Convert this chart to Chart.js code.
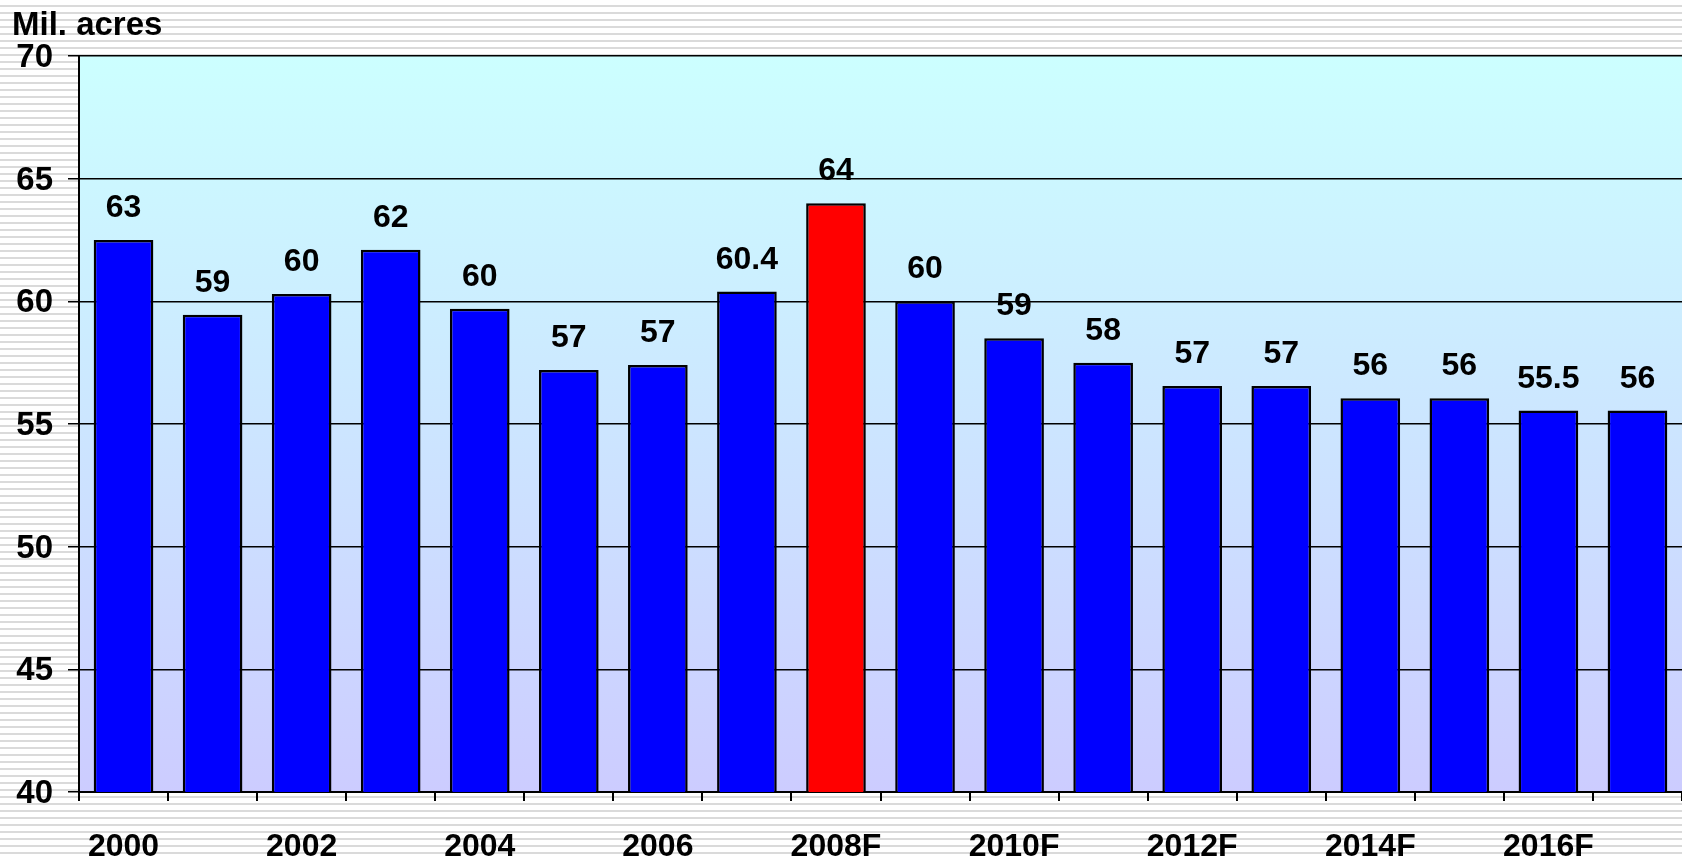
<!DOCTYPE html>
<html>
<head>
<meta charset="utf-8">
<script src="https://cdn.jsdelivr.net/npm/chart.js@4"></script>
<style>
  html, body {
    margin: 0;
    padding: 0;
    background: repeating-linear-gradient(to bottom, #ffffff 0px, #ffffff 5px, #dadada 5px, #dadada 7px);
  }
  canvas { display: block; }
</style>
</head>
<body>
<canvas id="acresChart" width="1682" height="859"></canvas>
<script>
// categories and values (million acres)
const years = ["2000", "2001", "2002", "2003", "2004", "2005", "2006", "2007", "2008F",
    "2009F", "2010F", "2011F", "2012F", "2013F", "2014F", "2015F", "2016F", "2017F"];
const acres = [62.5, 59.45, 60.3, 62.1, 59.7, 57.2, 57.4, 60.4, 64.0,
    60.0, 58.5, 57.5, 56.55, 56.55, 56.05, 56.05, 55.55, 55.55];
const valueLabels = ["63", "59", "60", "62", "60", "57", "57", "60.4", "64",
    "60", "59", "58", "57", "57", "56", "56", "55.5", "56"];
const yTicks = [40, 45, 50, 55, 60, 65, 70];
const highlightYear = "2008F";

const FONT = "'Liberation Sans', Arial, sans-serif";

// plot background: cyan at top fading to lavender
const plotBackground = {
    id: "plotBackground",
    beforeDraw(chart) {
        const { ctx, chartArea } = chart;
        const g = ctx.createLinearGradient(0, chartArea.top, 0, chartArea.bottom);
        g.addColorStop(0, "#ccffff");
        g.addColorStop(1, "#ccccff");
        ctx.save();
        ctx.fillStyle = g;
        ctx.fillRect(chartArea.left, chartArea.top, chartArea.right - chartArea.left, chartArea.bottom - chartArea.top);
        ctx.restore();
    }
};

// value labels above bars + unit title
const barLabels = {
    id: "barLabels",
    afterDatasetsDraw(chart) {
        const { ctx } = chart;
        const meta = chart.getDatasetMeta(0);
        ctx.save();
        ctx.fillStyle = "#000";
        ctx.font = "bold 32px " + FONT;
        ctx.textAlign = "center";
        ctx.textBaseline = "alphabetic";
        meta.data.forEach((bar, i) => {
            ctx.fillText(valueLabels[i], bar.x, bar.y - 23);
        });
        ctx.textAlign = "left";
        ctx.font = "bold 33px " + FONT;
        ctx.fillText("Mil. acres", 12, 35);
        ctx.restore();
    }
};

const ctx = document.getElementById("acresChart").getContext("2d");

const chart = new Chart(ctx, {
    type: "bar",
    data: {
        labels: years,
        datasets: [{
            data: acres,
            backgroundColor: years.map(y => y === highlightYear ? "#ff0000" : "#0000ff"),
            borderColor: "#000",
            borderWidth: 2.5,
            borderSkipped: "start",
            categoryPercentage: 1.0,
            barPercentage: 0.67,
        }],
    },
    options: {
        responsive: false,
        animation: false,
        devicePixelRatio: 1,
        layout: { padding: { top: 56, right: 0, left: 0, bottom: 0 } },
        plugins: {
            legend: { display: false },
            tooltip: { enabled: false },
        },
        scales: {
            x: {
                grid: {
                    offset: true,
                    drawOnChartArea: false,
                    drawTicks: true,
                    tickLength: 9,
                    color: "#000",
                    lineWidth: 2,
                },
                border: { color: "#000", width: 2 },
                ticks: {
                    autoSkip: false,
                    maxRotation: 0,
                    color: "#000",
                    padding: 27,
                    font: { family: FONT, size: 32, weight: "bold" },
                    callback: function (value, index) {
                        return index % 2 === 0 ? years[index] : "";
                    },
                },
                afterFit(scale) { scale.height = 67; },
            },
            y: {
                min: yTicks[0],
                max: yTicks[yTicks.length - 1],
                afterBuildTicks(scale) { scale.ticks = yTicks.map(v => ({ value: v })); },
                grid: {
                    color: "#000",
                    lineWidth: 1.5,
                    tickLength: 11,
                },
                border: { color: "#000", width: 2 },
                ticks: {
                    color: "#000",
                    padding: 15,
                    labelOffset: 2,
                    font: { family: FONT, size: 33, weight: "bold" },
                },
                afterFit(scale) { scale.width = 79; },
            },
        },
    },
    plugins: [plotBackground, barLabels],
});
</script>
</body>
</html>
